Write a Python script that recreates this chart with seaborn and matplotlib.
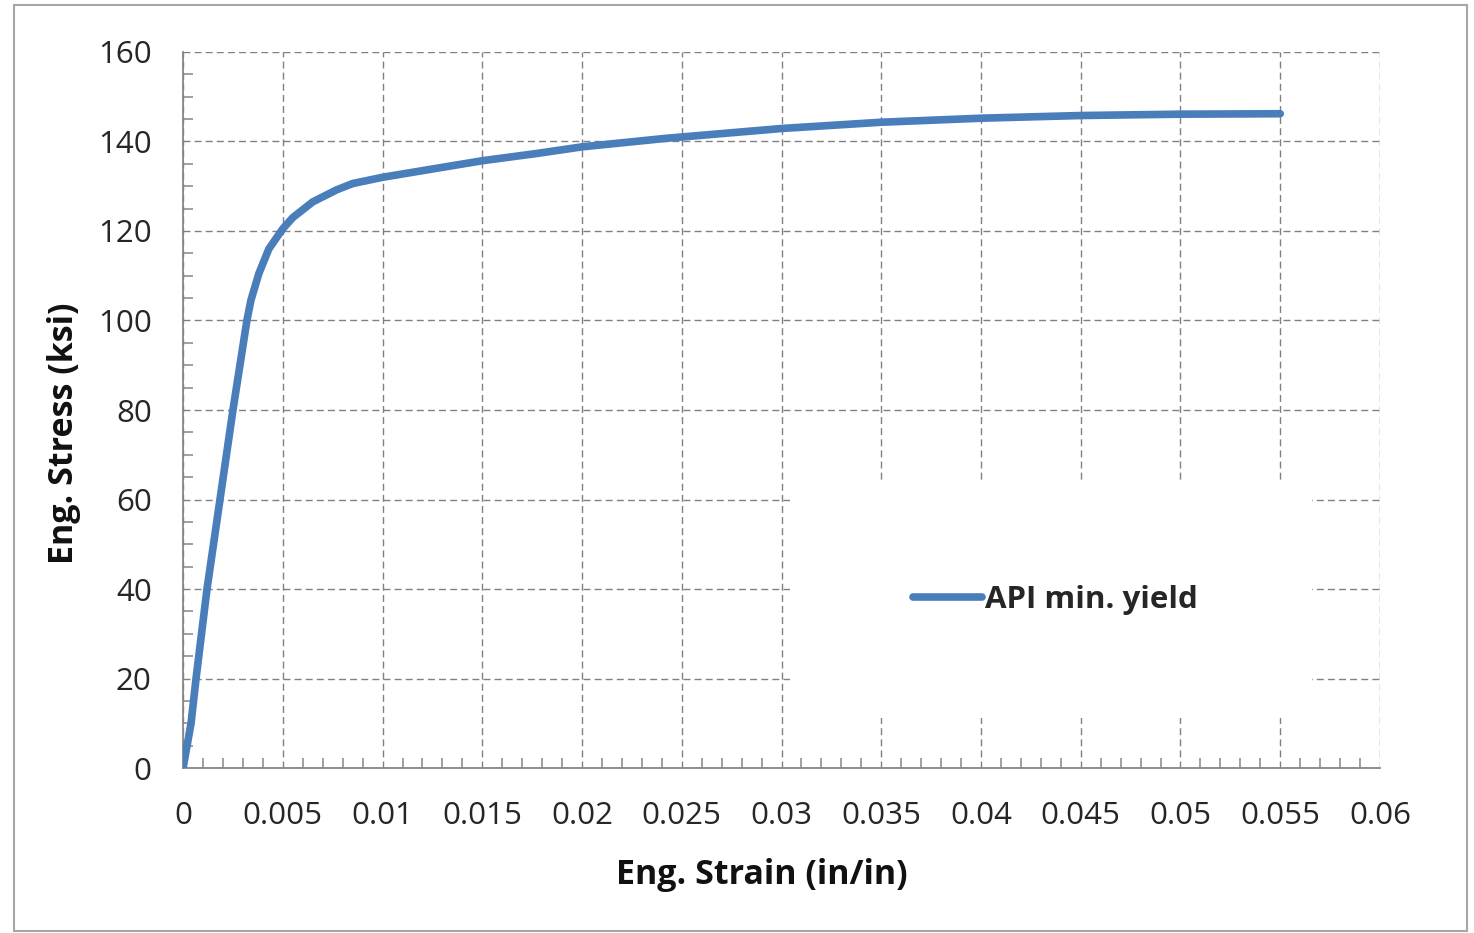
import numpy as np
import pandas as pd
import matplotlib.pyplot as plt
import seaborn as sns
from matplotlib.patches import Rectangle
from matplotlib.ticker import MultipleLocator

# values
strain = [0.0, 0.0004, 0.00065, 0.0012, 0.00185, 0.0025, 0.0032, 0.0034, 0.0038,
          0.0043, 0.005, 0.0055, 0.0065, 0.0077, 0.0085, 0.01, 0.0127, 0.015, 0.0177,
          0.02, 0.0242, 0.03, 0.035, 0.04, 0.045, 0.05, 0.055]
stress = [0.0, 10.0, 20.0, 40.0, 60.0, 80.0, 100.0, 104.5, 110.5,
          116.0, 120.5, 123.0, 126.5, 129.2, 130.6, 132.0, 134.0, 135.7, 137.3,
          138.8, 140.7, 142.9, 144.3, 145.2, 145.8, 146.1, 146.2]
series_name = 'API min. yield'
x_ticks = [0, 0.005, 0.01, 0.015, 0.02, 0.025, 0.03, 0.035, 0.04, 0.045, 0.05, 0.055, 0.06]
x_tick_labels = ['0', '0.005', '0.01', '0.015', '0.02', '0.025', '0.03', '0.035',
                 '0.04', '0.045', '0.05', '0.055', '0.06']
y_ticks = [0, 20, 40, 60, 80, 100, 120, 140, 160]

df = pd.DataFrame({'strain': strain, 'stress': stress})

sns.set_theme(style='white')
plt.rcParams['font.family'] = ['Open Sans', 'DejaVu Sans']

grey = '#868686'
blue = '#4a7ebb'

fig = plt.figure(figsize=(14.74, 9.33), dpi=100)
ax = fig.add_axes([0.1242, 0.1768, 0.812, 0.7675])

sns.lineplot(data=df, x='strain', y='stress', ax=ax, color=blue, linewidth=5.5,
             label=series_name, sort=False, zorder=3,
             solid_joinstyle='round', solid_capstyle='round')

ax.set_xlim(0, 0.06)
ax.set_ylim(0, 160)
ax.set_xticks(x_ticks)
ax.set_xticklabels(x_tick_labels)
ax.set_yticks(y_ticks)
ax.xaxis.set_minor_locator(MultipleLocator(0.001))
ax.yaxis.set_minor_locator(MultipleLocator(5))

ax.grid(which='major', color='#808080', linestyle=(0, (5, 3)), linewidth=1.0)
ax.set_axisbelow(True)

for s in ['top', 'right']:
    ax.spines[s].set_visible(False)
for s in ['left', 'bottom']:
    ax.spines[s].set_color(grey)
    ax.spines[s].set_linewidth(1.3)

ax.tick_params(which='major', direction='inout', length=15, width=1.3, color=grey,
               labelsize=22.5, labelcolor='#262626')
ax.tick_params(axis='y', which='major', pad=15)
ax.tick_params(axis='x', which='major', pad=16)
ax.tick_params(which='minor', direction='in', length=7, width=1.1, color=grey,
               bottom=True, left=True)

ax.set_xlabel('Eng. Strain (in/in)', fontsize=24.5, fontweight='bold', color='#111111')
ax.set_ylabel('Eng. Stress (ksi)', fontsize=24.5, fontweight='bold', color='#111111')
ax.xaxis.set_label_coords(0.4837, -0.125)
ax.yaxis.set_label_coords(-0.085, 0.468)

# white legend area covering the grid
ax.add_patch(Rectangle((0.507, 0.07), 0.436, 0.33, transform=ax.transAxes,
                       facecolor='white', edgecolor='none', zorder=1))
ax.legend(loc='center', bbox_to_anchor=(0.729, 0.235), frameon=False,
          prop={'size': 22.5, 'weight': 'bold'}, handlelength=2.2, handletextpad=0.1)

# outer chart border
fig.patches.append(Rectangle((0.0095, 0.002), 0.9858, 0.9924, transform=fig.transFigure,
                             facecolor='none', edgecolor='#a6a6a6', linewidth=1.5))

fig.savefig('out.png', dpi=100)
